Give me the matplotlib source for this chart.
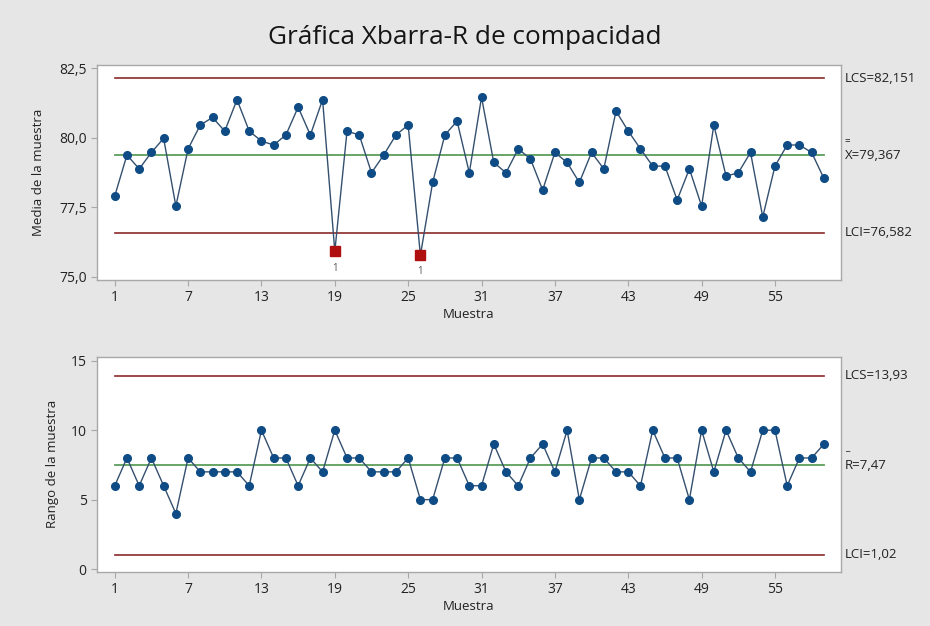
import matplotlib
matplotlib.use("Agg")
import matplotlib.pyplot as plt
import numpy as np

plt.rcParams['font.family'] = ['Open Sans', 'DejaVu Sans']

# datos (59 muestras)
muestra = list(range(1, 60))
medias = [77.90, 79.38, 78.88, 79.47, 79.98, 77.54, 79.60, 80.46, 80.73, 80.24,
          81.37, 80.24, 79.88, 79.74, 80.10, 81.10, 80.10, 81.37, 75.91, 80.24,
          80.10, 78.74, 79.38, 80.10, 80.46, 75.77, 78.39, 80.10, 80.60, 78.74,
          81.46, 79.11, 78.74, 79.60, 79.24, 78.12, 79.47, 79.11, 78.39, 79.47,
          78.88, 80.96, 80.24, 79.60, 78.98, 78.98, 77.76, 78.88, 77.54, 80.46,
          78.62, 78.74, 79.47, 77.15, 78.98, 79.74, 79.74, 79.47, 78.54]
rangos = [6, 8, 6, 8, 6, 4, 8, 7, 7, 7,
          7, 6, 10, 8, 8, 6, 8, 7, 10, 8,
          8, 7, 7, 7, 8, 5, 5, 8, 8, 6,
          6, 9, 7, 6, 8, 9, 7, 10, 5, 8,
          8, 7, 7, 6, 10, 8, 8, 5, 10, 7,
          10, 8, 7, 10, 10, 6, 8, 8, 9]
fuera = [19, 26]  # muestras fuera de control

lcs_x, media_x, lci_x = 82.151, 79.367, 76.582
lcs_r, media_r, lci_r = 13.93, 7.47, 1.02

xticks = list(range(1, 60, 6))

bg = '#e6e6e6'
c_lim = '#8b2a2a'
c_cen = '#5c9e5c'
c_line = '#34506e'
c_pt = '#0f4c85'
c_red = '#b00f0f'
c_frame = '#a8a8a8'

fig = plt.figure(figsize=(9.3, 6.26), dpi=100, facecolor=bg)
ax1 = fig.add_axes([0.1043, 0.5527, 0.80, 0.3435])
ax2 = fig.add_axes([0.1043, 0.0867, 0.80, 0.3430])

fig.text(0.5, 0.94, 'Gráfica Xbarra-R de compacidad', ha='center', va='center',
         fontsize=18.8, color='#151515')


def estilo(ax):
    ax.set_facecolor('white')
    for s in ax.spines.values():
        s.set_color(c_frame)
        s.set_linewidth(1.0)
    ax.tick_params(direction='out', length=4, color=c_frame, labelsize=10,
                   labelcolor='#222222')
    ax.set_xticks(xticks)
    ax.set_xlim(-0.45, 60.4)
    ax.set_xlabel('Muestra', fontsize=9.5, color='#222222', labelpad=2)


def coma(v, d):
    return f'{v:.{d}f}'.replace('.', ',')


# grafica de medias
estilo(ax1)
for v in (lcs_x, lci_x):
    ax1.plot([1, 59], [v, v], color=c_lim, lw=1.2)
ax1.plot([1, 59], [media_x, media_x], color=c_cen, lw=1.3)
ax1.plot(muestra, medias, color=c_line, lw=1.0, marker='o', ms=5.5,
         mfc=c_pt, mec=c_pt, zorder=3)
for m in fuera:
    ax1.plot(m, medias[m - 1], marker='s', ms=6.5, color=c_red, zorder=4)
    ax1.annotate('1', (m, medias[m - 1]), xytext=(0, -12), textcoords='offset points',
                 ha='center', va='center', fontsize=7, color='#555555')
ax1.set_ylim(74.88, 82.62)
yt1 = [75.0, 77.5, 80.0, 82.5]
ax1.set_yticks(yt1)
ax1.set_yticklabels([coma(v, 1) for v in yt1])
ax1.set_ylabel('Media de la muestra', fontsize=9.5, color='#222222', labelpad=10)

tx = dict(transform=ax1.get_yaxis_transform(), fontsize=9.5, color='#222222',
          va='center', ha='left')
ax1.text(1.005, lcs_x, 'LCS=' + coma(lcs_x, 3), **tx)
ax1.text(1.005, media_x, 'X=' + coma(media_x, 3), **tx)
ax1.annotate('=', (1.005, media_x), xycoords=ax1.get_yaxis_transform(),
             xytext=(0, 10), textcoords='offset points', fontsize=7,
             color='#222222', va='center', ha='left')
ax1.text(1.005, lci_x, 'LCI=' + coma(lci_x, 3), **tx)

# grafica de rangos
estilo(ax2)
for v in (lcs_r, lci_r):
    ax2.plot([1, 59], [v, v], color=c_lim, lw=1.2)
ax2.plot([1, 59], [media_r, media_r], color=c_cen, lw=1.3)
ax2.plot(muestra, rangos, color=c_line, lw=1.0, marker='o', ms=5.5,
         mfc=c_pt, mec=c_pt, zorder=3)
ax2.set_ylim(-0.19, 15.27)
ax2.set_yticks([0, 5, 10, 15])
ax2.set_ylabel('Rango de la muestra', fontsize=9.5, color='#222222', labelpad=8)

tx2 = dict(transform=ax2.get_yaxis_transform(), fontsize=9.5, color='#222222',
           va='center', ha='left')
ax2.text(1.005, lcs_r, 'LCS=' + coma(lcs_r, 2), **tx2)
ax2.text(1.005, media_r, 'R=' + coma(media_r, 2), **tx2)
ax2.annotate('_', (1.005, media_r), xycoords=ax2.get_yaxis_transform(),
             xytext=(0, 13), textcoords='offset points', fontsize=7,
             color='#222222', va='center', ha='left')
ax2.text(1.005, lci_r, 'LCI=' + coma(lci_r, 2), **tx2)

fig.savefig('out.png', dpi=100, facecolor=bg)
